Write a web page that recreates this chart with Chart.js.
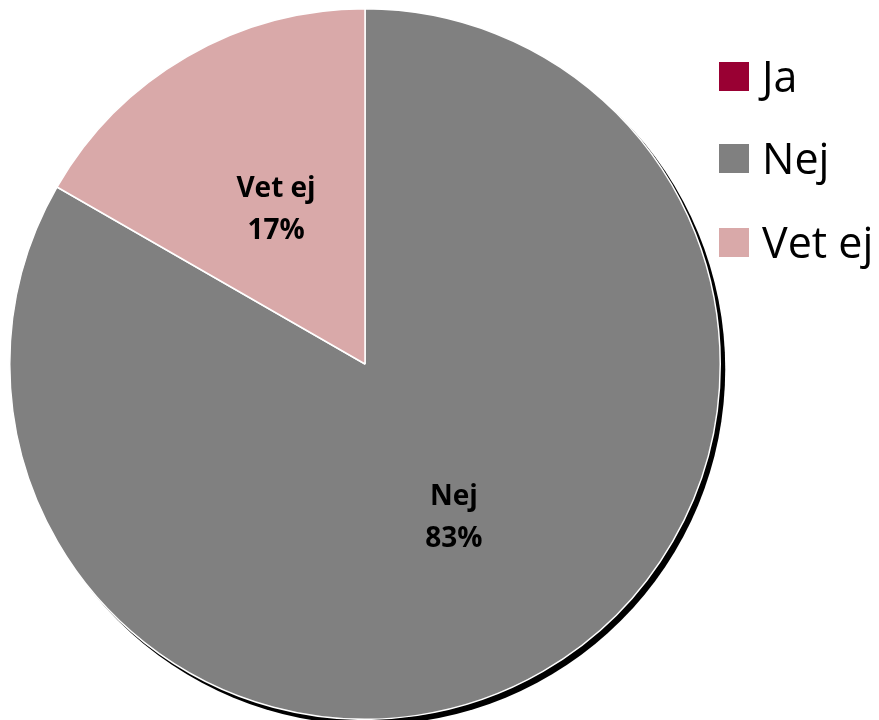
<!DOCTYPE html>
<html>
<head>
<meta charset="utf-8">
<script src="https://cdn.jsdelivr.net/npm/chart.js@4/dist/chart.umd.min.js"></script>
<style>
  html, body { margin: 0; padding: 0; background: #ffffff; }
  #wrap { position: relative; width: 879px; height: 720px; overflow: hidden; }
  #c { position: absolute; left: 0; top: 0; }
  .leg { position: absolute; left: 719px; height: 30px; font-family: "Open Sans", "Liberation Sans", sans-serif; font-size: 43px; color: #000; white-space: nowrap; }
  .leg .box { position: absolute; left: 0; top: 0; width: 30px; height: 29px; }
  .leg .txt { position: absolute; left: 43px; top: -16px; line-height: 60px; }
</style>
</head>
<body>
<div id="wrap">
  <canvas id="c" width="879" height="720"></canvas>
  <div id="legend"></div>
</div>
<script>
const categories = ["Ja", "Nej", "Vet ej"];
const values = [0, 83.3, 16.7];
const percentLabels = ["0%", "83%", "17%"];
const colors = ["#990033", "#808080", "#D9A9A9"];

// HTML legend built from the data arrays
const legendTops = [62, 144, 228];
const legend = document.getElementById('legend');
categories.forEach((name, i) => {
  const item = document.createElement('div');
  item.className = 'leg';
  item.style.top = legendTops[i] + 'px';
  const box = document.createElement('div');
  box.className = 'box';
  box.style.background = colors[i];
  const txt = document.createElement('div');
  txt.className = 'txt';
  txt.textContent = name;
  item.appendChild(box);
  item.appendChild(txt);
  legend.appendChild(item);
});

const shadowPlugin = {
  id: 'pieShadow',
  beforeDatasetsDraw(chart) {
    const meta = chart.getDatasetMeta(0);
    const arc = meta.data.find(a => a);
    if (!arc) return;
    const {x, y, outerRadius} = arc.getProps(['x', 'y', 'outerRadius'], true);
    const ctx = chart.ctx;
    ctx.save();
    ctx.fillStyle = '#000000';
    ctx.beginPath();
    ctx.arc(x + 4.5, y + 5, outerRadius + 0.5, 0, Math.PI * 2);
    ctx.fill();
    ctx.restore();
  }
};

const labelPlugin = {
  id: 'sliceLabels',
  afterDatasetsDraw(chart) {
    const meta = chart.getDatasetMeta(0);
    const ctx = chart.ctx;
    ctx.save();
    ctx.fillStyle = '#000000';
    ctx.font = 'bold 28px "Open Sans", "Liberation Sans", sans-serif';
    ctx.textAlign = 'center';
    ctx.textBaseline = 'middle';
    meta.data.forEach((arc, i) => {
      if (!values[i]) return;
      const p = arc.tooltipPosition(true);
      ctx.fillText(categories[i], p.x, p.y - 21);
      ctx.fillText(percentLabels[i], p.x, p.y + 21);
    });
    ctx.restore();
  }
};

new Chart(document.getElementById('c'), {
  type: 'pie',
  data: {
    labels: categories,
    datasets: [{
      data: values,
      backgroundColor: colors,
      borderColor: '#ffffff',
      borderWidth: 1.5
    }]
  },
  options: {
    responsive: false,
    animation: false,
    layout: { padding: { left: 9, top: 8, right: 158, bottom: 0 } },
    plugins: {
      legend: { display: false },
      tooltip: { enabled: false }
    }
  },
  plugins: [shadowPlugin, labelPlugin]
});
</script>
</body>
</html>
